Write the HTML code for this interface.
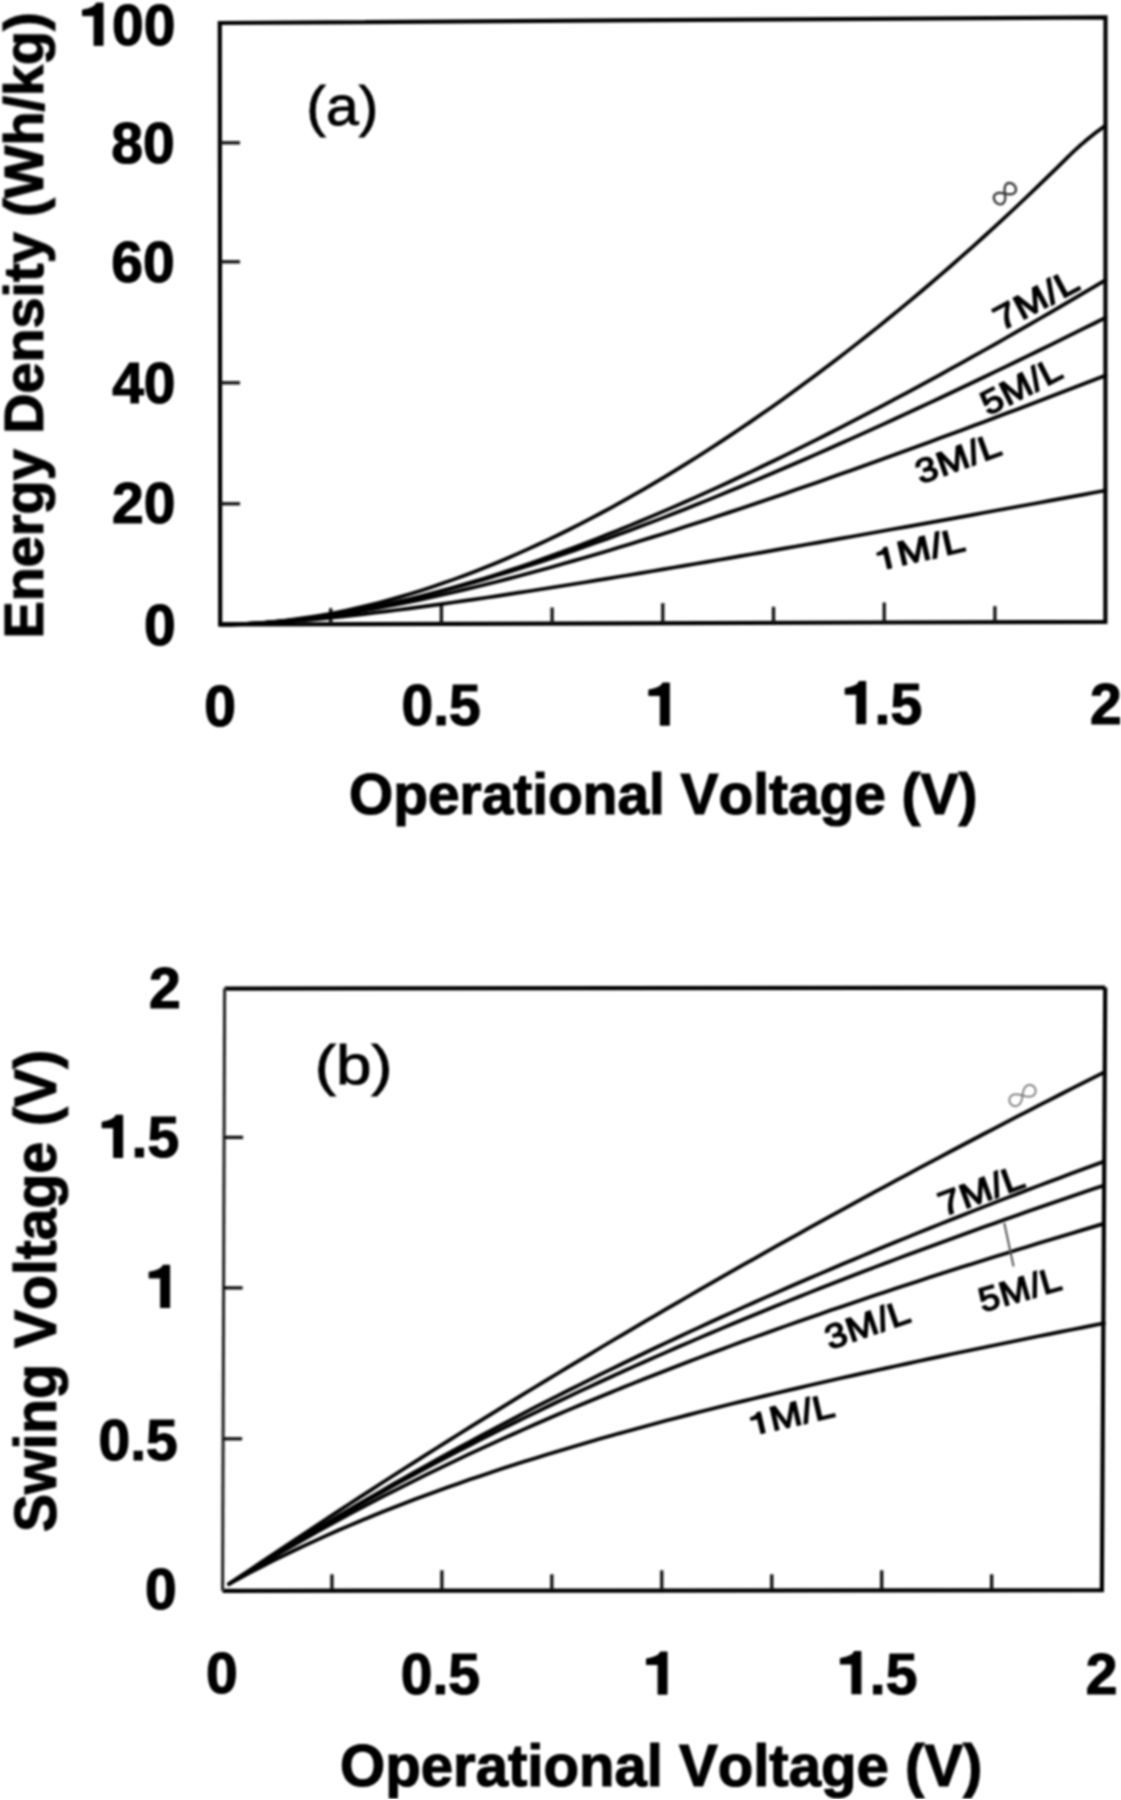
<!DOCTYPE html>
<html><head><meta charset="utf-8"><title>Energy density and swing voltage vs operational voltage</title>
<style>html,body{margin:0;padding:0;background:#fff;}body{width:1121px;height:1800px;overflow:hidden;}svg{display:block;}</style>
</head><body>
<svg width="1121" height="1800" viewBox="0 0 1121 1800">
<defs><filter id="sb" x="0" y="0" width="1" height="1"><feGaussianBlur stdDeviation="0.8"/></filter></defs>
<rect width="1121" height="1800" fill="#fff"/>
<g filter="url(#sb)">
<path d="M219.8 23.0 L1105.5 17.3 L1105.4 621.8 L220.2 624.5 Z" fill="none" stroke="#000" stroke-width="4.2" stroke-linejoin="miter"/>
<line x1="330.7" y1="624.16" x2="330.7" y2="608.16" stroke="#111" stroke-width="3.3" stroke-linecap="butt"/>
<line x1="441.4" y1="623.82" x2="441.4" y2="603.82" stroke="#111" stroke-width="3.3" stroke-linecap="butt"/>
<line x1="552.1" y1="623.49" x2="552.1" y2="607.49" stroke="#111" stroke-width="3.3" stroke-linecap="butt"/>
<line x1="662.8" y1="623.15" x2="662.8" y2="603.15" stroke="#111" stroke-width="3.3" stroke-linecap="butt"/>
<line x1="773.5" y1="622.81" x2="773.5" y2="606.81" stroke="#111" stroke-width="3.3" stroke-linecap="butt"/>
<line x1="884.2" y1="622.47" x2="884.2" y2="602.47" stroke="#111" stroke-width="3.3" stroke-linecap="butt"/>
<line x1="994.9" y1="622.14" x2="994.9" y2="606.14" stroke="#111" stroke-width="3.3" stroke-linecap="butt"/>
<line x1="220" y1="503.8" x2="240" y2="503.8" stroke="#111" stroke-width="3.3" stroke-linecap="butt"/>
<line x1="220" y1="382.8" x2="240" y2="382.8" stroke="#111" stroke-width="3.3" stroke-linecap="butt"/>
<line x1="220" y1="261.8" x2="240" y2="261.8" stroke="#111" stroke-width="3.3" stroke-linecap="butt"/>
<line x1="220" y1="142.8" x2="240" y2="142.8" stroke="#111" stroke-width="3.3" stroke-linecap="butt"/>
<path d="M220 624.5 L231.07 624.36 L242.14 624.03 L253.21 623.52 L264.27 622.82 L275.34 621.94 L286.41 620.89 L297.48 619.68 L308.55 618.31 L319.62 616.78 L330.69 615.11 L341.76 613.28 L352.82 611.31 L363.89 609.21 L374.96 606.97 L386.03 604.6 L397.1 602.1 L408.17 599.48 L419.24 596.74 L430.31 593.88 L441.38 590.91 L452.44 587.83 L463.51 584.64 L474.58 581.35 L485.65 577.96 L496.72 574.46 L507.79 570.87 L518.86 567.18 L529.92 563.41 L540.99 559.54 L552.06 555.58 L563.13 551.54 L574.2 547.42 L585.27 543.21 L596.34 538.93 L607.41 534.57 L618.48 530.13 L629.54 525.62 L640.61 521.03 L651.68 516.38 L662.75 511.65 L673.82 506.86 L684.89 502.01 L695.96 497.09 L707.03 492.1 L718.09 487.06 L729.16 481.95 L740.23 476.79 L751.3 471.57 L762.37 466.29 L773.44 460.96 L784.51 455.57 L795.58 450.13 L806.64 444.64 L817.71 439.09 L828.78 433.5 L839.85 427.86 L850.92 422.17 L861.99 416.44 L873.06 410.65 L884.12 404.83 L895.19 398.96 L906.26 393.04 L917.33 387.09 L928.4 381.09 L939.47 375.05 L950.54 368.98 L961.61 362.86 L972.67 356.7 L983.74 350.51 L994.81 344.28 L1005.88 338.01 L1016.95 331.71 L1028.02 325.38 L1039.09 319 L1050.16 312.6 L1061.22 306.16 L1072.29 299.69 L1083.36 293.19 L1094.43 286.65 L1105.5 280.09" fill="none" stroke="#000" stroke-width="3.7" stroke-linejoin="round" stroke-linecap="round"/>
<path d="M220 624.5 L231.07 624.36 L242.14 624.01 L253.21 623.47 L264.27 622.74 L275.34 621.84 L286.41 620.76 L297.48 619.53 L308.55 618.13 L319.62 616.59 L330.69 614.9 L341.76 613.07 L352.82 611.11 L363.89 609.02 L374.96 606.81 L386.03 604.49 L397.1 602.04 L408.17 599.49 L419.24 596.84 L430.31 594.08 L441.38 591.22 L452.44 588.27 L463.51 585.23 L474.58 582.1 L485.65 578.89 L496.72 575.59 L507.79 572.21 L518.86 568.76 L529.92 565.23 L540.99 561.63 L552.06 557.96 L563.13 554.23 L574.2 550.43 L585.27 546.56 L596.34 542.63 L607.41 538.65 L618.48 534.6 L629.54 530.5 L640.61 526.35 L651.68 522.14 L662.75 517.88 L673.82 513.57 L684.89 509.21 L695.96 504.81 L707.03 500.36 L718.09 495.87 L729.16 491.33 L740.23 486.75 L751.3 482.13 L762.37 477.47 L773.44 472.77 L784.51 468.03 L795.58 463.25 L806.64 458.44 L817.71 453.6 L828.78 448.72 L839.85 443.8 L850.92 438.86 L861.99 433.88 L873.06 428.87 L884.12 423.83 L895.19 418.77 L906.26 413.67 L917.33 408.55 L928.4 403.39 L939.47 398.21 L950.54 393.01 L961.61 387.78 L972.67 382.52 L983.74 377.24 L994.81 371.94 L1005.88 366.61 L1016.95 361.26 L1028.02 355.89 L1039.09 350.5 L1050.16 345.08 L1061.22 339.65 L1072.29 334.19 L1083.36 328.71 L1094.43 323.22 L1105.5 317.7" fill="none" stroke="#000" stroke-width="3.7" stroke-linejoin="round" stroke-linecap="round"/>
<path d="M220 624.5 L231.07 624.36 L242.14 624.04 L253.21 623.53 L264.27 622.85 L275.34 622.02 L286.41 621.03 L297.48 619.9 L308.55 618.64 L319.62 617.25 L330.69 615.73 L341.76 614.1 L352.82 612.36 L363.89 610.51 L374.96 608.56 L386.03 606.52 L397.1 604.39 L408.17 602.17 L419.24 599.87 L430.31 597.49 L441.38 595.03 L452.44 592.5 L463.51 589.9 L474.58 587.23 L485.65 584.5 L496.72 581.71 L507.79 578.86 L518.86 575.96 L529.92 573 L540.99 569.98 L552.06 566.92 L563.13 563.81 L574.2 560.65 L585.27 557.45 L596.34 554.2 L607.41 550.92 L618.48 547.59 L629.54 544.22 L640.61 540.82 L651.68 537.38 L662.75 533.9 L673.82 530.39 L684.89 526.85 L695.96 523.28 L707.03 519.67 L718.09 516.04 L729.16 512.38 L740.23 508.69 L751.3 504.97 L762.37 501.23 L773.44 497.46 L784.51 493.67 L795.58 489.85 L806.64 486.01 L817.71 482.15 L828.78 478.26 L839.85 474.36 L850.92 470.43 L861.99 466.48 L873.06 462.52 L884.12 458.53 L895.19 454.53 L906.26 450.51 L917.33 446.47 L928.4 442.41 L939.47 438.34 L950.54 434.25 L961.61 430.15 L972.67 426.03 L983.74 421.9 L994.81 417.75 L1005.88 413.59 L1016.95 409.41 L1028.02 405.22 L1039.09 401.02 L1050.16 396.8 L1061.22 392.57 L1072.29 388.33 L1083.36 384.08 L1094.43 379.81 L1105.5 375.54" fill="none" stroke="#000" stroke-width="3.7" stroke-linejoin="round" stroke-linecap="round"/>
<path d="M220 624.5 L231.07 624.37 L242.14 624.09 L253.21 623.65 L264.27 623.09 L275.34 622.42 L286.41 621.65 L297.48 620.78 L308.55 619.83 L319.62 618.81 L330.69 617.71 L341.76 616.56 L352.82 615.35 L363.89 614.09 L374.96 612.77 L386.03 611.42 L397.1 610.02 L408.17 608.59 L419.24 607.12 L430.31 605.62 L441.38 604.09 L452.44 602.54 L463.51 600.95 L474.58 599.34 L485.65 597.71 L496.72 596.06 L507.79 594.39 L518.86 592.7 L529.92 590.99 L540.99 589.26 L552.06 587.52 L563.13 585.76 L574.2 583.99 L585.27 582.21 L596.34 580.41 L607.41 578.61 L618.48 576.79 L629.54 574.96 L640.61 573.12 L651.68 571.27 L662.75 569.41 L673.82 567.54 L684.89 565.66 L695.96 563.78 L707.03 561.88 L718.09 559.98 L729.16 558.08 L740.23 556.16 L751.3 554.24 L762.37 552.31 L773.44 550.38 L784.51 548.44 L795.58 546.5 L806.64 544.55 L817.71 542.6 L828.78 540.64 L839.85 538.68 L850.92 536.71 L861.99 534.74 L873.06 532.76 L884.12 530.78 L895.19 528.8 L906.26 526.81 L917.33 524.82 L928.4 522.82 L939.47 520.82 L950.54 518.82 L961.61 516.82 L972.67 514.81 L983.74 512.8 L994.81 510.79 L1005.88 508.77 L1016.95 506.75 L1028.02 504.73 L1039.09 502.71 L1050.16 500.68 L1061.22 498.65 L1072.29 496.62 L1083.36 494.59 L1094.43 492.55 L1105.5 490.52" fill="none" stroke="#000" stroke-width="3.7" stroke-linejoin="round" stroke-linecap="round"/>
<path d="M220 624.5 L230.6 624.36 L241.2 624.02 L251.8 623.49 L262.4 622.76 L273 621.83 L283.6 620.72 L294.2 619.43 L304.8 617.95 L315.4 616.29 L326 614.45 L336.6 612.45 L347.2 610.27 L357.8 607.92 L368.4 605.4 L379 602.73 L389.6 599.89 L400.2 596.89 L410.8 593.74 L421.4 590.44 L432 586.98 L442.6 583.37 L453.2 579.62 L463.8 575.72 L474.4 571.68 L485 567.5 L495.6 563.18 L506.2 558.73 L516.8 554.13 L527.4 549.41 L538 544.55 L548.6 539.57 L559.2 534.46 L569.8 529.22 L580.4 523.85 L591 518.36 L601.6 512.75 L612.2 507.02 L622.8 501.17 L633.4 495.21 L644 489.13 L654.6 482.93 L665.2 476.61 L675.8 470.19 L686.4 463.65 L697 457 L707.6 450.24 L718.2 443.37 L728.8 436.4 L739.4 429.31 L750 422.12 L760.6 414.82 L771.2 407.42 L781.8 399.91 L792.4 392.29 L803 384.57 L813.6 376.75 L824.2 368.82 L834.8 360.79 L845.4 352.65 L856 344.41 L866.6 336.06 L877.2 327.61 L887.8 319.06 L898.4 310.39 L909 301.63 L919.6 292.76 L930.2 283.78 L940.8 274.69 L951.4 265.5 L962 256.19 L972.6 246.78 L983.2 237.25 L993.8 227.61 L1004.4 217.86 L1015 208 L1025.6 198.01 L1036.2 187.91 L1046.8 177.69 L1057.4 167.35 L1068 156.88 L1069.71 155.2 L1071.43 153.53 L1073.16 151.88 L1074.9 150.25 L1076.66 148.63 L1078.43 147.02 L1080.22 145.44 L1082.02 143.86 L1083.83 142.31 L1085.65 140.76 L1087.49 139.24 L1089.34 137.73 L1091.2 136.23 L1093.07 134.75 L1094.96 133.29 L1096.86 131.84 L1098.78 130.41 L1100.71 128.99 L1102.65 127.59 L1104.6 126.2" fill="none" stroke="#000" stroke-width="3.7" stroke-linejoin="round" stroke-linecap="round"/>
<path d="M224.6 988.6 L1105.2 987.6" fill="none" stroke="#000" stroke-width="4.2"/>
<path d="M1105.2 987.6 L1101.9 1590.2 L222.6 1590.8" fill="none" stroke="#000" stroke-width="4.2"/>
<path d="M222.6 1590.8 L224.6 988.6" fill="none" stroke="#2a2a2a" stroke-width="3.2"/>
<line x1="331.95" y1="1590.3" x2="331.95" y2="1574.3" stroke="#111" stroke-width="3.3" stroke-linecap="butt"/>
<line x1="441.9" y1="1590.3" x2="441.9" y2="1570.3" stroke="#111" stroke-width="3.3" stroke-linecap="butt"/>
<line x1="551.85" y1="1590.3" x2="551.85" y2="1574.3" stroke="#111" stroke-width="3.3" stroke-linecap="butt"/>
<line x1="661.8" y1="1590.3" x2="661.8" y2="1570.3" stroke="#111" stroke-width="3.3" stroke-linecap="butt"/>
<line x1="771.75" y1="1590.3" x2="771.75" y2="1574.3" stroke="#111" stroke-width="3.3" stroke-linecap="butt"/>
<line x1="881.7" y1="1590.3" x2="881.7" y2="1570.3" stroke="#111" stroke-width="3.3" stroke-linecap="butt"/>
<line x1="991.65" y1="1590.3" x2="991.65" y2="1574.3" stroke="#111" stroke-width="3.3" stroke-linecap="butt"/>
<line x1="224.11" y1="1137.4" x2="243.11" y2="1137.4" stroke="#111" stroke-width="3.3" stroke-linecap="butt"/>
<line x1="223.61" y1="1287.9" x2="242.61" y2="1287.9" stroke="#111" stroke-width="3.3" stroke-linecap="butt"/>
<line x1="223.1" y1="1438.8" x2="242.1" y2="1438.8" stroke="#111" stroke-width="3.3" stroke-linecap="butt"/>
<path d="M229 1584 L239.94 1576.58 L250.88 1569.19 L261.81 1561.83 L272.75 1554.51 L283.69 1547.2 L294.62 1539.93 L305.56 1532.69 L316.5 1525.48 L327.44 1518.29 L338.38 1511.14 L349.31 1504.01 L360.25 1496.91 L371.19 1489.84 L382.12 1482.8 L393.06 1475.78 L404 1468.79 L414.94 1461.83 L425.88 1454.89 L436.81 1447.99 L447.75 1441.11 L458.69 1434.25 L469.62 1427.43 L480.56 1420.63 L491.5 1413.85 L502.44 1407.1 L513.38 1400.38 L524.31 1393.69 L535.25 1387.01 L546.19 1380.37 L557.12 1373.75 L568.06 1367.16 L579 1360.59 L589.94 1354.04 L600.88 1347.52 L611.81 1341.03 L622.75 1334.56 L633.69 1328.11 L644.62 1321.69 L655.56 1315.29 L666.5 1308.92 L677.44 1302.57 L688.38 1296.25 L699.31 1289.94 L710.25 1283.67 L721.19 1277.41 L732.12 1271.18 L743.06 1264.97 L754 1258.79 L764.94 1252.62 L775.88 1246.48 L786.81 1240.37 L797.75 1234.27 L808.69 1228.2 L819.62 1222.15 L830.56 1216.13 L841.5 1210.12 L852.44 1204.14 L863.38 1198.18 L874.31 1192.24 L885.25 1186.32 L896.19 1180.42 L907.12 1174.55 L918.06 1168.69 L929 1162.86 L939.94 1157.05 L950.88 1151.26 L961.81 1145.49 L972.75 1139.74 L983.69 1134.01 L994.62 1128.3 L1005.56 1122.61 L1016.5 1116.95 L1027.44 1111.3 L1038.38 1105.67 L1049.31 1100.07 L1060.25 1094.48 L1071.19 1088.91 L1082.12 1083.36 L1093.06 1077.84 L1104 1072.33" fill="none" stroke="#000" stroke-width="3.7" stroke-linejoin="round" stroke-linecap="round"/>
<path d="M229 1584 L239.94 1576.94 L250.88 1569.94 L261.81 1563 L272.75 1556.12 L283.69 1549.3 L294.62 1542.54 L305.56 1535.84 L316.5 1529.2 L327.44 1522.61 L338.38 1516.08 L349.31 1509.6 L360.25 1503.18 L371.19 1496.81 L382.12 1490.49 L393.06 1484.23 L404 1478.02 L414.94 1471.86 L425.88 1465.74 L436.81 1459.68 L447.75 1453.66 L458.69 1447.7 L469.62 1441.78 L480.56 1435.9 L491.5 1430.08 L502.44 1424.29 L513.38 1418.56 L524.31 1412.86 L535.25 1407.21 L546.19 1401.61 L557.12 1396.04 L568.06 1390.52 L579 1385.04 L589.94 1379.59 L600.88 1374.19 L611.81 1368.83 L622.75 1363.51 L633.69 1358.23 L644.62 1352.98 L655.56 1347.77 L666.5 1342.6 L677.44 1337.47 L688.38 1332.37 L699.31 1327.31 L710.25 1322.28 L721.19 1317.29 L732.12 1312.33 L743.06 1307.41 L754 1302.51 L764.94 1297.66 L775.88 1292.83 L786.81 1288.04 L797.75 1283.28 L808.69 1278.55 L819.62 1273.85 L830.56 1269.19 L841.5 1264.55 L852.44 1259.94 L863.38 1255.36 L874.31 1250.82 L885.25 1246.3 L896.19 1241.81 L907.12 1237.34 L918.06 1232.91 L929 1228.5 L939.94 1224.12 L950.88 1219.77 L961.81 1215.44 L972.75 1211.14 L983.69 1206.87 L994.62 1202.62 L1005.56 1198.39 L1016.5 1194.2 L1027.44 1190.02 L1038.38 1185.87 L1049.31 1181.75 L1060.25 1177.65 L1071.19 1173.57 L1082.12 1169.51 L1093.06 1165.48 L1104 1161.47" fill="none" stroke="#000" stroke-width="3.7" stroke-linejoin="round" stroke-linecap="round"/>
<path d="M229 1584 L239.94 1576.94 L250.88 1569.96 L261.81 1563.06 L272.75 1556.24 L283.69 1549.5 L294.62 1542.83 L305.56 1536.24 L316.5 1529.72 L327.44 1523.27 L338.38 1516.89 L349.31 1510.58 L360.25 1504.33 L371.19 1498.16 L382.12 1492.04 L393.06 1485.99 L404 1480 L414.94 1474.07 L425.88 1468.2 L436.81 1462.39 L447.75 1456.64 L458.69 1450.94 L469.62 1445.3 L480.56 1439.71 L491.5 1434.17 L502.44 1428.69 L513.38 1423.26 L524.31 1417.88 L535.25 1412.54 L546.19 1407.26 L557.12 1402.02 L568.06 1396.83 L579 1391.69 L589.94 1386.59 L600.88 1381.53 L611.81 1376.52 L622.75 1371.55 L633.69 1366.62 L644.62 1361.73 L655.56 1356.89 L666.5 1352.08 L677.44 1347.31 L688.38 1342.58 L699.31 1337.89 L710.25 1333.23 L721.19 1328.61 L732.12 1324.03 L743.06 1319.48 L754 1314.96 L764.94 1310.48 L775.88 1306.03 L786.81 1301.61 L797.75 1297.23 L808.69 1292.87 L819.62 1288.55 L830.56 1284.26 L841.5 1280 L852.44 1275.76 L863.38 1271.56 L874.31 1267.38 L885.25 1263.23 L896.19 1259.11 L907.12 1255.02 L918.06 1250.95 L929 1246.9 L939.94 1242.89 L950.88 1238.89 L961.81 1234.93 L972.75 1230.98 L983.69 1227.06 L994.62 1223.17 L1005.56 1219.29 L1016.5 1215.44 L1027.44 1211.61 L1038.38 1207.8 L1049.31 1204.02 L1060.25 1200.25 L1071.19 1196.51 L1082.12 1192.78 L1093.06 1189.08 L1104 1185.4" fill="none" stroke="#000" stroke-width="3.7" stroke-linejoin="round" stroke-linecap="round"/>
<path d="M229 1584 L239.94 1577.19 L250.88 1570.47 L261.81 1563.86 L272.75 1557.34 L283.69 1550.92 L294.62 1544.58 L305.56 1538.34 L316.5 1532.18 L327.44 1526.11 L338.38 1520.12 L349.31 1514.21 L360.25 1508.38 L371.19 1502.62 L382.12 1496.94 L393.06 1491.33 L404 1485.79 L414.94 1480.32 L425.88 1474.92 L436.81 1469.59 L447.75 1464.31 L458.69 1459.1 L469.62 1453.95 L480.56 1448.87 L491.5 1443.83 L502.44 1438.86 L513.38 1433.94 L524.31 1429.07 L535.25 1424.26 L546.19 1419.5 L557.12 1414.79 L568.06 1410.13 L579 1405.51 L589.94 1400.94 L600.88 1396.42 L611.81 1391.95 L622.75 1387.51 L633.69 1383.12 L644.62 1378.77 L655.56 1374.46 L666.5 1370.2 L677.44 1365.97 L688.38 1361.77 L699.31 1357.62 L710.25 1353.5 L721.19 1349.42 L732.12 1345.37 L743.06 1341.36 L754 1337.37 L764.94 1333.43 L775.88 1329.51 L786.81 1325.62 L797.75 1321.76 L808.69 1317.94 L819.62 1314.14 L830.56 1310.37 L841.5 1306.63 L852.44 1302.91 L863.38 1299.22 L874.31 1295.56 L885.25 1291.92 L896.19 1288.31 L907.12 1284.72 L918.06 1281.15 L929 1277.61 L939.94 1274.09 L950.88 1270.59 L961.81 1267.11 L972.75 1263.65 L983.69 1260.21 L994.62 1256.8 L1005.56 1253.4 L1016.5 1250.02 L1027.44 1246.66 L1038.38 1243.32 L1049.31 1240 L1060.25 1236.69 L1071.19 1233.4 L1082.12 1230.13 L1093.06 1226.87 L1104 1223.63" fill="none" stroke="#000" stroke-width="3.7" stroke-linejoin="round" stroke-linecap="round"/>
<path d="M229 1584 L239.94 1578.01 L250.88 1572.18 L261.81 1566.49 L272.75 1560.95 L283.69 1555.54 L294.62 1550.25 L305.56 1545.1 L316.5 1540.06 L327.44 1535.13 L338.38 1530.31 L349.31 1525.6 L360.25 1520.98 L371.19 1516.47 L382.12 1512.05 L393.06 1507.71 L404 1503.47 L414.94 1499.3 L425.88 1495.22 L436.81 1491.21 L447.75 1487.27 L458.69 1483.41 L469.62 1479.61 L480.56 1475.88 L491.5 1472.22 L502.44 1468.61 L513.38 1465.06 L524.31 1461.58 L535.25 1458.14 L546.19 1454.76 L557.12 1451.43 L568.06 1448.15 L579 1444.92 L589.94 1441.73 L600.88 1438.59 L611.81 1435.49 L622.75 1432.43 L633.69 1429.41 L644.62 1426.43 L655.56 1423.48 L666.5 1420.57 L677.44 1417.7 L688.38 1414.86 L699.31 1412.06 L710.25 1409.28 L721.19 1406.53 L732.12 1403.82 L743.06 1401.13 L754 1398.47 L764.94 1395.83 L775.88 1393.22 L786.81 1390.64 L797.75 1388.08 L808.69 1385.54 L819.62 1383.02 L830.56 1380.53 L841.5 1378.05 L852.44 1375.6 L863.38 1373.16 L874.31 1370.75 L885.25 1368.35 L896.19 1365.96 L907.12 1363.6 L918.06 1361.25 L929 1358.91 L939.94 1356.6 L950.88 1354.29 L961.81 1352 L972.75 1349.72 L983.69 1347.46 L994.62 1345.2 L1005.56 1342.96 L1016.5 1340.73 L1027.44 1338.51 L1038.38 1336.3 L1049.31 1334.11 L1060.25 1331.92 L1071.19 1329.74 L1082.12 1327.57 L1093.06 1325.41 L1104 1323.25" fill="none" stroke="#000" stroke-width="3.7" stroke-linejoin="round" stroke-linecap="round"/>
<line x1="1004.2" y1="1222.8" x2="1013.6" y2="1266.5" stroke="#444" stroke-width="1.8" stroke-linecap="butt"/>
<g font-family="'Liberation Sans', sans-serif" style="font-kerning:none">
<path d="M378 0L378 700L272 700Q246 620 40 584L40 494L232 494L232 0Z" transform="translate(80.24,45.22) scale(0.06,-0.06)" fill="#000" stroke="#000" stroke-width="21.05" stroke-linejoin="round"/>
<text x="111.94" y="45.22" font-size="57" font-weight="bold" fill="#000" stroke="#000" stroke-width="1.2">0</text>
<text x="143.64" y="45.22" font-size="57" font-weight="bold" fill="#000" stroke="#000" stroke-width="1.2">0</text>
<text x="111.24" y="163.32" font-size="57" font-weight="bold" fill="#000" stroke="#000" stroke-width="1.2">8</text>
<text x="142.94" y="163.32" font-size="57" font-weight="bold" fill="#000" stroke="#000" stroke-width="1.2">0</text>
<text x="111.24" y="282.42" font-size="57" font-weight="bold" fill="#000" stroke="#000" stroke-width="1.2">6</text>
<text x="142.94" y="282.42" font-size="57" font-weight="bold" fill="#000" stroke="#000" stroke-width="1.2">0</text>
<text x="112.14" y="402.92" font-size="57" font-weight="bold" fill="#000" stroke="#000" stroke-width="1.2">4</text>
<text x="143.84" y="402.92" font-size="57" font-weight="bold" fill="#000" stroke="#000" stroke-width="1.2">0</text>
<text x="111.94" y="523.32" font-size="57" font-weight="bold" fill="#000" stroke="#000" stroke-width="1.2">2</text>
<text x="143.64" y="523.32" font-size="57" font-weight="bold" fill="#000" stroke="#000" stroke-width="1.2">0</text>
<text x="143.94" y="645.32" font-size="57" font-weight="bold" fill="#000" stroke="#000" stroke-width="1.2">0</text>
<text x="204.19" y="725.62" font-size="57" font-weight="bold" fill="#000" stroke="#000" stroke-width="1.2">0</text>
<text x="401.45" y="725.02" font-size="57" font-weight="bold" fill="#000" stroke="#000" stroke-width="1.2">0</text>
<text x="433.15" y="725.02" font-size="57" font-weight="bold" fill="#000" stroke="#000" stroke-width="1.2">.</text>
<text x="448.98" y="725.02" font-size="57" font-weight="bold" fill="#000" stroke="#000" stroke-width="1.2">5</text>
<path d="M378 0L378 700L272 700Q246 620 40 584L40 494L232 494L232 0Z" transform="translate(646.56,725.11) scale(0.06,-0.06)" fill="#000" stroke="#000" stroke-width="21.05" stroke-linejoin="round"/>
<path d="M378 0L378 700L272 700Q246 620 40 584L40 494L232 494L232 0Z" transform="translate(842.91,723.73) scale(0.06,-0.06)" fill="#000" stroke="#000" stroke-width="21.05" stroke-linejoin="round"/>
<text x="874.61" y="723.73" font-size="57" font-weight="bold" fill="#000" stroke="#000" stroke-width="1.2">.</text>
<text x="890.44" y="723.73" font-size="57" font-weight="bold" fill="#000" stroke="#000" stroke-width="1.2">5</text>
<text x="1089.9" y="724.4" font-size="57" font-weight="bold" fill="#000" stroke="#000" stroke-width="1.2">2</text>
<text x="148.98" y="1007.9" font-size="57" font-weight="bold" fill="#000" stroke="#000" stroke-width="1.2">2</text>
<path d="M378 0L378 700L272 700Q246 620 40 584L40 494L232 494L232 0Z" transform="translate(99.85,1157.33) scale(0.06,-0.06)" fill="#000" stroke="#000" stroke-width="21.05" stroke-linejoin="round"/>
<text x="131.55" y="1157.33" font-size="57" font-weight="bold" fill="#000" stroke="#000" stroke-width="1.2">.</text>
<text x="147.39" y="1157.33" font-size="57" font-weight="bold" fill="#000" stroke="#000" stroke-width="1.2">5</text>
<path d="M378 0L378 700L272 700Q246 620 40 584L40 494L232 494L232 0Z" transform="translate(146.85,1307.41) scale(0.06,-0.06)" fill="#000" stroke="#000" stroke-width="21.05" stroke-linejoin="round"/>
<text x="98.55" y="1459.72" font-size="57" font-weight="bold" fill="#000" stroke="#000" stroke-width="1.2">0</text>
<text x="130.25" y="1459.72" font-size="57" font-weight="bold" fill="#000" stroke="#000" stroke-width="1.2">.</text>
<text x="146.09" y="1459.72" font-size="57" font-weight="bold" fill="#000" stroke="#000" stroke-width="1.2">5</text>
<text x="144.94" y="1609.42" font-size="57" font-weight="bold" fill="#000" stroke="#000" stroke-width="1.2">0</text>
<text x="206.09" y="1692.92" font-size="57" font-weight="bold" fill="#000" stroke="#000" stroke-width="1.2">0</text>
<text x="400.75" y="1693.92" font-size="57" font-weight="bold" fill="#000" stroke="#000" stroke-width="1.2">0</text>
<text x="432.45" y="1693.92" font-size="57" font-weight="bold" fill="#000" stroke="#000" stroke-width="1.2">.</text>
<text x="448.28" y="1693.92" font-size="57" font-weight="bold" fill="#000" stroke="#000" stroke-width="1.2">5</text>
<path d="M378 0L378 700L272 700Q246 620 40 584L40 494L232 494L232 0Z" transform="translate(644.26,1694.11) scale(0.06,-0.06)" fill="#000" stroke="#000" stroke-width="21.05" stroke-linejoin="round"/>
<path d="M378 0L378 700L272 700Q246 620 40 584L40 494L232 494L232 0Z" transform="translate(838.11,1693.63) scale(0.06,-0.06)" fill="#000" stroke="#000" stroke-width="21.05" stroke-linejoin="round"/>
<text x="869.81" y="1693.63" font-size="57" font-weight="bold" fill="#000" stroke="#000" stroke-width="1.2">.</text>
<text x="885.64" y="1693.63" font-size="57" font-weight="bold" fill="#000" stroke="#000" stroke-width="1.2">5</text>
<text x="1085.7" y="1694.4" font-size="57" font-weight="bold" fill="#000" stroke="#000" stroke-width="1.2">2</text>
<text transform="translate(349.07,813.6) scale(0.99,1)" font-size="57.4" font-weight="bold" fill="#000" stroke="#000" stroke-width="1.2">Operational Voltage (V)</text>
<text transform="translate(340.03,1786.2) scale(0.99,1)" font-size="58.7" font-weight="bold" fill="#000" stroke="#000" stroke-width="1.2">Operational Voltage (V)</text>
<text transform="translate(42.9,638.53) rotate(-90) scale(1,1)" font-size="55.8" font-weight="bold" stroke="#000" stroke-width="1.2">Energy Density (Wh/kg)</text>
<text transform="translate(55.8,1532.15) rotate(-90) scale(0.96,1)" font-size="59.5" font-weight="bold" stroke="#000" stroke-width="1.2">Swing Voltage (V)</text>
<text transform="translate(306.35,124.6) scale(1.07,1)" font-size="55" font-weight="normal" fill="#000" stroke="#000" stroke-width="0.9">(a)</text>
<text transform="translate(314.66,1084.2) scale(1.16,1)" font-size="55" font-weight="normal" fill="#000" stroke="#000" stroke-width="0.9">(b)</text>
<g transform="translate(1001.37,331.33) rotate(-28)">
<text transform="translate(0,0) scale(1.170,1)" font-size="34" font-weight="normal" fill="#000" stroke="#000" stroke-width="1.5">7</text>
<text transform="translate(22.93,0) scale(1.170,1)" font-size="34" font-weight="normal" fill="#000" stroke="#000" stroke-width="1.5">M</text>
<text transform="translate(56.88,0) scale(1.170,1)" font-size="34" font-weight="normal" fill="#000" stroke="#000" stroke-width="1.5">/</text>
<text transform="translate(68.73,0) scale(1.170,1)" font-size="34" font-weight="normal" fill="#000" stroke="#000" stroke-width="1.5">L</text>
</g>
<g transform="translate(987.96,416.12) rotate(-27)">
<text transform="translate(0,0) scale(1.107,1)" font-size="34" font-weight="normal" fill="#000" stroke="#000" stroke-width="1.5">5</text>
<text transform="translate(21.73,0) scale(1.107,1)" font-size="34" font-weight="normal" fill="#000" stroke="#000" stroke-width="1.5">M</text>
<text transform="translate(53.87,0) scale(1.107,1)" font-size="34" font-weight="normal" fill="#000" stroke="#000" stroke-width="1.5">/</text>
<text transform="translate(65.13,0) scale(1.107,1)" font-size="34" font-weight="normal" fill="#000" stroke="#000" stroke-width="1.5">L</text>
</g>
<g transform="translate(920.45,484.26) rotate(-20)">
<text transform="translate(0,0) scale(1.137,1)" font-size="34" font-weight="normal" fill="#000" stroke="#000" stroke-width="1.5">3</text>
<text transform="translate(22.3,0) scale(1.137,1)" font-size="34" font-weight="normal" fill="#000" stroke="#000" stroke-width="1.5">M</text>
<text transform="translate(55.31,0) scale(1.137,1)" font-size="34" font-weight="normal" fill="#000" stroke="#000" stroke-width="1.5">/</text>
<text transform="translate(66.85,0) scale(1.137,1)" font-size="34" font-weight="normal" fill="#000" stroke="#000" stroke-width="1.5">L</text>
</g>
<g transform="translate(877.39,571.03) rotate(-13)">
<path d="M359 0L359 703L288 703Q268 612 96 586L96 512L269 512L269 0Z" transform="translate(0,0) scale(0.04,-0.03)" fill="#000" stroke="#000" stroke-width="44.12" stroke-linejoin="round"/>
<text transform="translate(23.11,0) scale(1.180,1)" font-size="34" font-weight="normal" fill="#000" stroke="#000" stroke-width="1.5">M</text>
<text transform="translate(57.33,0) scale(1.180,1)" font-size="34" font-weight="normal" fill="#000" stroke="#000" stroke-width="1.5">/</text>
<text transform="translate(69.27,0) scale(1.180,1)" font-size="34" font-weight="normal" fill="#000" stroke="#000" stroke-width="1.5">L</text>
</g>
<g transform="translate(943.56,1216.57) rotate(-20)">
<text transform="translate(0,0) scale(1.139,1)" font-size="34" font-weight="normal" fill="#000" stroke="#000" stroke-width="1.5">7</text>
<text transform="translate(22.33,0) scale(1.139,1)" font-size="34" font-weight="normal" fill="#000" stroke="#000" stroke-width="1.5">M</text>
<text transform="translate(55.38,0) scale(1.139,1)" font-size="34" font-weight="normal" fill="#000" stroke="#000" stroke-width="1.5">/</text>
<text transform="translate(66.94,0) scale(1.139,1)" font-size="34" font-weight="normal" fill="#000" stroke="#000" stroke-width="1.5">L</text>
</g>
<g transform="translate(982.56,1312.32) rotate(-16)">
<text transform="translate(0,0) scale(1.082,1)" font-size="34" font-weight="normal" fill="#000" stroke="#000" stroke-width="1.5">5</text>
<text transform="translate(21.26,0) scale(1.082,1)" font-size="34" font-weight="normal" fill="#000" stroke="#000" stroke-width="1.5">M</text>
<text transform="translate(52.71,0) scale(1.082,1)" font-size="34" font-weight="normal" fill="#000" stroke="#000" stroke-width="1.5">/</text>
<text transform="translate(63.73,0) scale(1.082,1)" font-size="34" font-weight="normal" fill="#000" stroke="#000" stroke-width="1.5">L</text>
</g>
<g transform="translate(829.69,1349.64) rotate(-19)">
<text transform="translate(0,0) scale(1.124,1)" font-size="34" font-weight="normal" fill="#000" stroke="#000" stroke-width="1.5">3</text>
<text transform="translate(22.04,0) scale(1.124,1)" font-size="34" font-weight="normal" fill="#000" stroke="#000" stroke-width="1.5">M</text>
<text transform="translate(54.67,0) scale(1.124,1)" font-size="34" font-weight="normal" fill="#000" stroke="#000" stroke-width="1.5">/</text>
<text transform="translate(66.08,0) scale(1.124,1)" font-size="34" font-weight="normal" fill="#000" stroke="#000" stroke-width="1.5">L</text>
</g>
<g transform="translate(750.86,1435.87) rotate(-13)">
<path d="M359 0L359 703L288 703Q268 612 96 586L96 512L269 512L269 0Z" transform="translate(0,0) scale(0.04,-0.03)" fill="#000" stroke="#000" stroke-width="44.12" stroke-linejoin="round"/>
<text transform="translate(22.13,0) scale(1.128,1)" font-size="34" font-weight="normal" fill="#000" stroke="#000" stroke-width="1.5">M</text>
<text transform="translate(54.87,0) scale(1.128,1)" font-size="34" font-weight="normal" fill="#000" stroke="#000" stroke-width="1.5">/</text>
<text transform="translate(66.33,0) scale(1.128,1)" font-size="34" font-weight="normal" fill="#000" stroke="#000" stroke-width="1.5">L</text>
</g>
</g>
<path d="M1014.12 185.16 L1014.99 186.32 L1015.6 187.59 L1015.91 188.87 L1015.93 190.08 L1015.69 191.15 L1015.23 192.06 L1014.61 192.79 L1013.87 193.36 L1013.04 193.77 L1012.17 194.04 L1011.27 194.2 L1010.35 194.27 L1009.44 194.26 L1008.52 194.19 L1007.61 194.08 L1006.7 193.94 L1005.8 193.77 L1004.9 193.6 L1004 193.43 L1003.1 193.26 L1002.19 193.12 L1001.28 193.01 L1000.36 192.94 L999.45 192.93 L998.53 193 L997.63 193.16 L996.76 193.43 L995.93 193.84 L995.19 194.41 L994.57 195.14 L994.11 196.05 L993.87 197.12 L993.89 198.33 L994.2 199.61 L994.81 200.88 L995.68 202.04 L996.77 203.02 L997.98 203.74 L999.23 204.16 L1000.43 204.28 L1001.52 204.14 L1002.46 203.76 L1003.25 203.2 L1003.88 202.51 L1004.36 201.73 L1004.7 200.88 L1004.94 200 L1005.09 199.09 L1005.16 198.18 L1005.17 197.26 L1005.14 196.34 L1005.08 195.42 L1004.99 194.51 L1004.9 193.6 L1004.81 192.69 L1004.72 191.78 L1004.66 190.86 L1004.63 189.94 L1004.64 189.02 L1004.71 188.11 L1004.86 187.2 L1005.1 186.32 L1005.44 185.47 L1005.92 184.69 L1006.55 184 L1007.34 183.44 L1008.28 183.06 L1009.37 182.92 L1010.57 183.04 L1011.82 183.46 L1013.03 184.18 L1014.12 185.16Z" fill="none" stroke="#333" stroke-width="2.3" stroke-linejoin="round"/>
<path d="M1034.66 1087.6 L1035.31 1088.9 L1035.63 1090.27 L1035.64 1091.63 L1035.34 1092.88 L1034.8 1093.97 L1034.07 1094.87 L1033.21 1095.58 L1032.26 1096.09 L1031.26 1096.44 L1030.24 1096.64 L1029.23 1096.72 L1028.22 1096.7 L1027.23 1096.61 L1026.26 1096.45 L1025.3 1096.25 L1024.36 1096.02 L1023.43 1095.76 L1022.5 1095.5 L1021.57 1095.24 L1020.64 1094.98 L1019.7 1094.75 L1018.74 1094.55 L1017.77 1094.39 L1016.78 1094.3 L1015.77 1094.28 L1014.76 1094.36 L1013.74 1094.56 L1012.74 1094.91 L1011.79 1095.42 L1010.93 1096.13 L1010.2 1097.03 L1009.66 1098.12 L1009.36 1099.37 L1009.37 1100.73 L1009.69 1102.1 L1010.34 1103.4 L1011.26 1104.51 L1012.38 1105.37 L1013.62 1105.93 L1014.88 1106.17 L1016.1 1106.12 L1017.22 1105.82 L1018.22 1105.31 L1019.07 1104.65 L1019.79 1103.88 L1020.39 1103.04 L1020.88 1102.14 L1021.27 1101.22 L1021.59 1100.27 L1021.84 1099.32 L1022.05 1098.37 L1022.22 1097.41 L1022.36 1096.45 L1022.5 1095.5 L1022.64 1094.55 L1022.78 1093.59 L1022.95 1092.63 L1023.16 1091.68 L1023.41 1090.73 L1023.73 1089.78 L1024.12 1088.86 L1024.61 1087.96 L1025.21 1087.12 L1025.93 1086.35 L1026.78 1085.69 L1027.78 1085.18 L1028.9 1084.88 L1030.12 1084.83 L1031.38 1085.07 L1032.62 1085.63 L1033.74 1086.49 L1034.66 1087.6Z" fill="none" stroke="#777" stroke-width="1.8" stroke-linejoin="round"/>
</g>
</svg>
</body></html>
